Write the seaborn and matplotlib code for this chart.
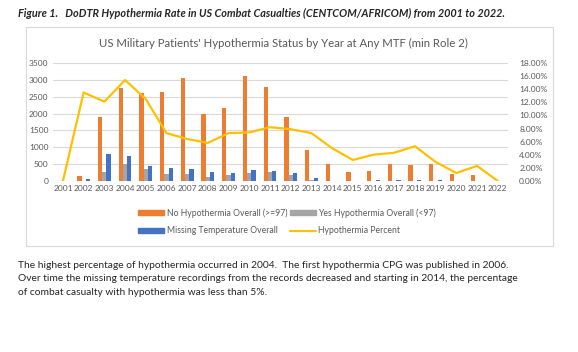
import numpy as np
import pandas as pd
import seaborn as sns
import matplotlib.pyplot as plt
from matplotlib.patches import Rectangle, Patch
from matplotlib.lines import Line2D
from matplotlib.ticker import PercentFormatter

years = [str(y) for y in range(2001, 2023)]
no_hypo = [0, 150, 1900, 2760, 2610, 2640, 3055, 1990, 2165, 3115, 2790, 1900,
           930, 500, 255, 285, 500, 470, 500, 220, 190, 0]
yes_hypo = [0, 0, 265, 500, 355, 205, 205, 115, 175, 235, 265, 175,
            35, 0, 0, 0, 0, 0, 0, 0, 0, 0]
missing = [0, 55, 800, 740, 445, 385, 355, 265, 235, 325, 295, 235,
           100, 0, 0, 30, 30, 30, 30, 0, 0, 0]
hypo_pct = [0.0, 13.5, 12.1, 15.4, 12.5, 7.3, 6.4, 5.8, 7.3, 7.4, 8.2, 7.9,
            7.3, 5.0, 3.2, 4.0, 4.3, 5.3, 2.9, 1.2, 2.3, 0.0]

labels = ["No Hypothermia Overall (>=97)", "Yes Hypothermia Overall (<97)",
          "Missing Temperature Overall"]
colors = ["#ED7D31", "#A5A5A5", "#4472C4"]
line_color = "#FFC000"

df = pd.DataFrame({"year": years * 3,
                   "series": np.repeat(labels, len(years)),
                   "count": no_hypo + yes_hypo + missing})

sns.set_style("white")
plt.rcParams["font.family"] = ["Lato", "DejaVu Sans"]

fig = plt.figure(figsize=(5.78, 3.52), dpi=100)
ax = fig.add_axes([0.091, 0.486, 0.788, 0.335])

sns.barplot(data=df, x="year", y="count", hue="series", hue_order=labels,
            palette=colors, width=0.62, gap=0, ax=ax, legend=False,
            linewidth=0, edgecolor="none", saturation=1)
ax.set_ylim(0, 3500)
ax.set_yticks(range(0, 3501, 500))
ax.grid(axis="y", color="#D9D9D9", linewidth=0.8)
ax.set_axisbelow(True)
ax.set_xlabel("")
ax.set_ylabel("")
for s in ax.spines.values():
    s.set_visible(False)
ax.tick_params(axis="both", length=0, labelsize=6, colors="#595959", pad=3)

ax2 = ax.twinx()
sns.lineplot(x=np.arange(len(years)), y=hypo_pct, ax=ax2, color=line_color,
             linewidth=1.6)
ax2.set_ylim(0, 18)
ax2.set_yticks(range(0, 19, 2))
ax2.yaxis.set_major_formatter(PercentFormatter(xmax=100, decimals=2))
ax2.set_xlim(-0.5, len(years) - 0.5)
for s in ax2.spines.values():
    s.set_visible(False)
ax2.tick_params(axis="y", length=0, labelsize=6, colors="#595959", pad=8)

fig.text(0.49, 0.877, "US Military Patients' Hypothermia Status by Year at Any MTF (min Role 2)",
         ha="center", va="center", fontsize=8.2, color="#595959")

handles = [Patch(color=colors[0]), Patch(color=colors[2]),
           Patch(color=colors[1]), Line2D([0], [0], color=line_color, lw=1.5)]
names = [labels[0], labels[2], labels[1], "Hypothermia Percent"]
fig.legend(handles, names, loc="center", bbox_to_anchor=(0.497, 0.37), ncol=2,
           frameon=False, fontsize=6.2, labelcolor="#595959", handlelength=3.0,
           handleheight=0.5, columnspacing=0.3, handletextpad=0.3,
           labelspacing=1.0)

fig.patches.append(Rectangle((0.045, 0.302), 0.912, 0.62, transform=fig.transFigure,
                             fill=False, edgecolor="#D9D9D9", linewidth=0.8))

fig.text(0.031, 0.963,
         "Figure 1.   DoDTR Hypothermia Rate in US Combat Casualties (CENTCOM/AFRICOM) from 2001 to 2022.",
         fontsize=7.8, fontweight="bold", fontstyle="italic", va="center")
body = ("The highest percentage of hypothermia occurred in 2004.  The first hypothermia CPG was published in 2006.\n"
        "Over time the missing temperature recordings from the records decreased and starting in 2014, the percentage\n"
        "of combat casualty with hypothermia was less than 5%.")
fig.text(0.031, 0.258, body, fontsize=7.4, va="top", linespacing=1.6)

fig.savefig("out.png", dpi=100)
